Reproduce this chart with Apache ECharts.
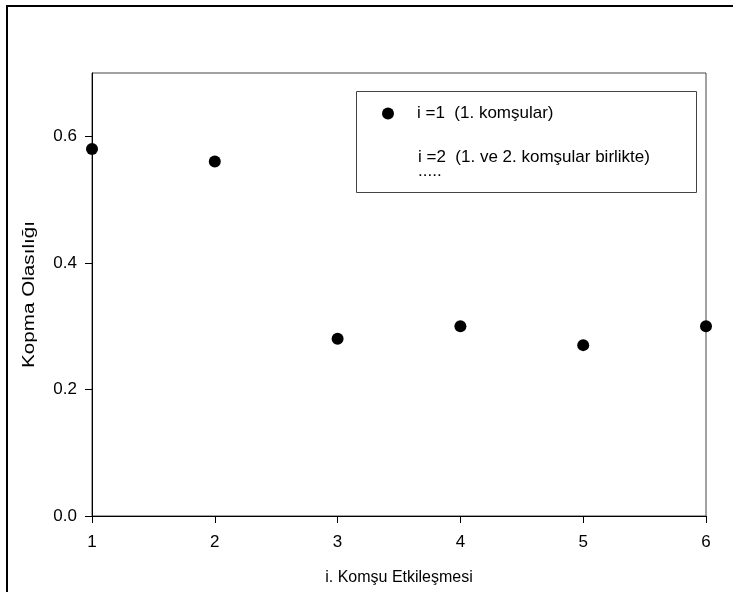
<!DOCTYPE html>
<html>
<head>
<meta charset="utf-8">
<script src="https://cdn.jsdelivr.net/npm/echarts@6/dist/echarts.min.js"></script>
<style>
html,body{margin:0;padding:0;background:#fff;}
#chart{width:733px;height:592px;}
</style>
</head>
<body>
<div id="chart"></div>
<script>
const xValues = [1, 2, 3, 4, 5, 6];
const yValues = [0.58, 0.56, 0.28, 0.30, 0.27, 0.30];
const yTicks = [0, 0.2, 0.4, 0.6];
const xTitle = 'i. Komşu Etkileşmesi';
const yTitle = 'Kopma Olasılığı';
const legendLine1 = 'i =1  (1. komşular)';
const legendLine2 = 'i =2  (1. ve 2. komşular birlikte)';
const legendLine3 = '.....';

const FONT = 'Liberation Sans, Arial, sans-serif';
const chart = echarts.init(document.getElementById('chart'), null, {renderer: 'canvas'});
chart.setOption({
  animation: false,
  backgroundColor: '#fff',
  grid: {left: 92, right: 27, top: 73, bottom: 76, show: true, borderColor: '#444', borderWidth: 1, containLabel: false},
  xAxis: {
    type: 'value', min: 1, max: 6, interval: 1,
    name: xTitle, nameLocation: 'middle', nameGap: 54,
    nameTextStyle: {fontFamily: FONT, fontSize: 16, color: '#000'},
    axisLine: {show: true, onZero: false, lineStyle: {color: '#000', width: 1}},
    axisTick: {show: true, inside: false, length: 7, lineStyle: {color: '#000'}},
    axisLabel: {fontFamily: FONT, fontSize: 17, color: '#000', margin: 18},
    splitLine: {show: false}
  },
  yAxis: {
    type: 'value', min: 0, max: 0.7,
    axisLine: {show: true, onZero: false, lineStyle: {color: '#000', width: 1}},
    axisTick: {show: true, inside: false, length: 7, customValues: yTicks, lineStyle: {color: '#000'}},
    axisLabel: {fontFamily: FONT, fontSize: 17, color: '#000', margin: 15, customValues: yTicks,
      formatter: v => v.toFixed(1)},
    splitLine: {show: false}
  },
  legend: {
    show: true, left: 382, top: 105, orient: 'vertical', padding: 0,
    itemWidth: 12, itemHeight: 12, icon: 'circle',
    textStyle: {fontFamily: FONT, fontSize: 17, color: '#000', padding: [0, 0, 0, 18]},
    data: [legendLine1]
  },
  graphic: [
    {type: 'rect', shape: {x: 7, y: 6, width: 800, height: 700}, style: {fill: 'none', stroke: '#000', lineWidth: 2}, z: 100},
    {type: 'rect', shape: {x: 356.5, y: 91.5, width: 340, height: 101}, style: {fill: '#fff', stroke: '#444', lineWidth: 1}, z: 1},
    {type: 'text', left: 418, top: 149, style: {text: legendLine2, font: '17px ' + FONT, fill: '#000'}, z: 10},
    {type: 'text', left: 418, top: 163, style: {text: legendLine3, font: '17px ' + FONT, fill: '#000'}, z: 10},
    {type: 'text', x: 30, y: 294.5, rotation: Math.PI / 2, scaleX: 1.29,
      style: {text: yTitle, font: '16px ' + FONT, fill: '#000', align: 'center', verticalAlign: 'middle'}, z: 10}
  ],
  series: [{
    name: legendLine1,
    type: 'scatter',
    symbol: 'circle', symbolSize: 12,
    itemStyle: {color: '#000', opacity: 1},
    data: xValues.map((x, i) => [x, yValues[i]]),
    clip: false
  }]
});
</script>
</body>
</html>
